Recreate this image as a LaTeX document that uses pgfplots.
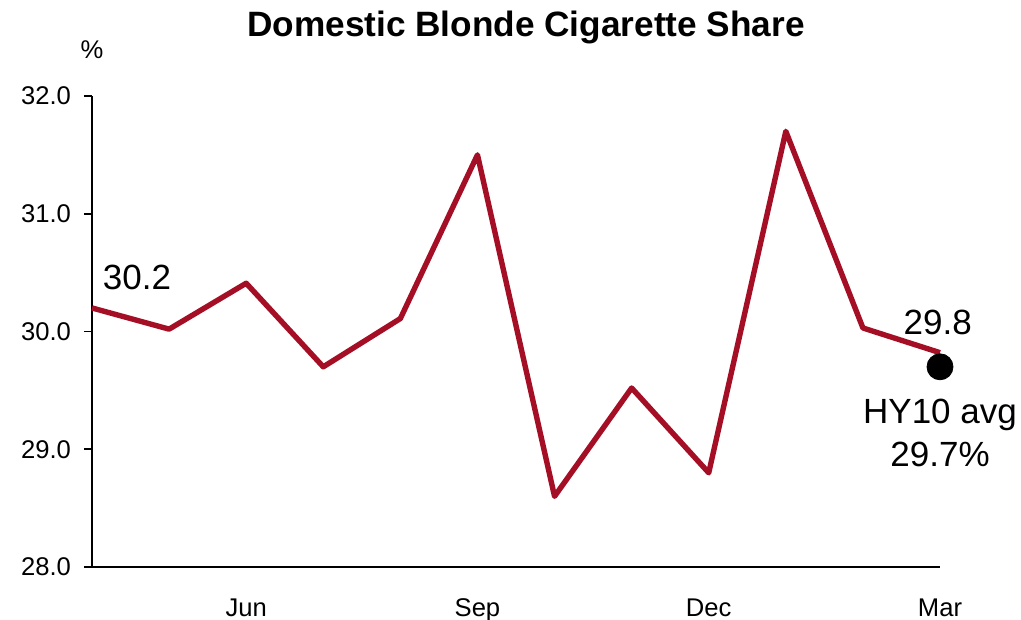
\documentclass[border=0pt]{standalone}
\usepackage{fontspec}
\setmainfont{Liberation Sans}
\usepackage{pgfplots}
\pgfplotsset{compat=1.18}
\definecolor{linered}{HTML}{A50F26}
\begin{document}
\begin{tikzpicture}
\path[use as bounding box] (-46pt,-26.5pt) rectangle (464.5pt,283.5pt);
\begin{axis}[
  at={(0pt,0pt)}, anchor=south west,
  scale only axis,
  width=424pt, height=235.5pt,
  xmin=0, xmax=11, ymin=28, ymax=32,
  axis x line*=bottom, axis y line*=left,
  axis line style={line width=0.9pt, -},
  xtick={2,5,8,11},
  xticklabels={Jun,Sep,Dec,Mar},
  major x tick style={draw=none},
  ytick={28,29,30,31,32},
  yticklabel style={/pgf/number format/fixed, /pgf/number format/fixed zerofill, /pgf/number format/precision=1, xshift=-3pt},
  /pgf/number format/assume math mode=true,
  tick align=outside,
  major tick length=4pt,
  major y tick style={line width=0.9pt, black},
  tick label style={font=\fontsize{12.8}{15}\selectfont},
  xticklabel style={yshift=-8.3pt},
  clip=false,
]
\addplot[color=linered, line width=2.7pt, line join=round] coordinates {
(0,30.2) (1,30.02) (2,30.41) (3,29.7) (4,30.11) (5,31.5) (6,28.6) (7,29.52) (8,28.8) (9,31.7) (10,30.03) (11,29.82)
};
\addplot[only marks, mark=*, mark size=6.5pt, black] coordinates {(11,29.7)};
\node[font=\fontsize{17.5}{21}\selectfont] at (axis cs:0.584,30.46) {30.2};
\node[font=\fontsize{17.5}{21}\selectfont] at (axis cs:10.97,30.08) {29.8};
\node[font=\fontsize{17.5}{21.5}\selectfont, align=center] at (axis cs:11,29.14) {HY10 avg\\29.7\%};
\node[font=\fontsize{12.8}{15}\selectfont] at (axis cs:0,32.39) {\%};
\node[font=\bfseries\fontsize{17.6}{21}\selectfont] at (axis cs:5.63,32.586) {Domestic Blonde Cigarette Share};
\end{axis}
\end{tikzpicture}
\end{document}
